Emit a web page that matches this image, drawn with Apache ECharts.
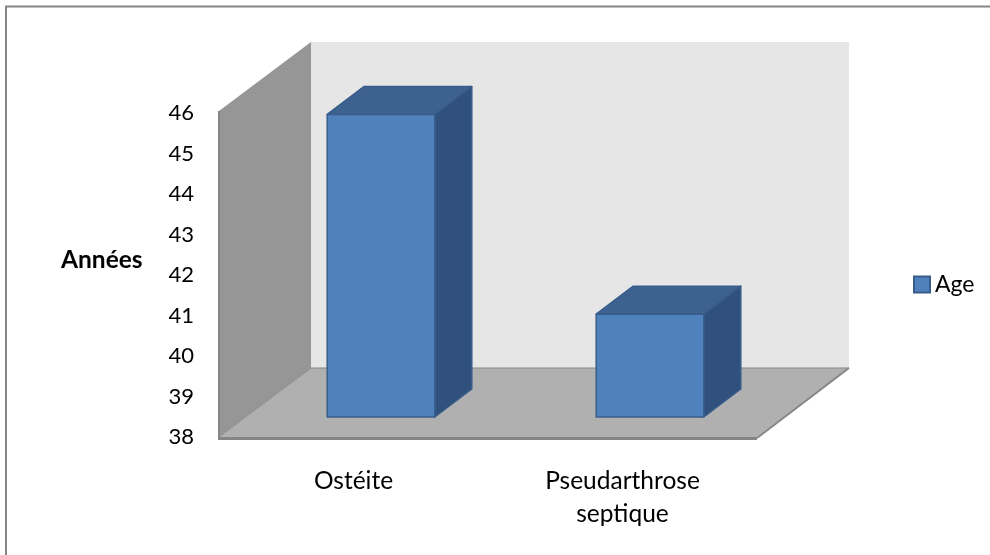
<!DOCTYPE html>
<html>
<head>
<meta charset="utf-8">
<style>html,body{margin:0;padding:0;background:#fff}#chart{width:990px;height:555px}</style>
<script src="https://cdn.jsdelivr.net/npm/echarts@6/dist/echarts.min.js"></script>
</head>
<body>
<div id="chart"></div>
<script>
// Mean age per diagnosis
const categories = ['Ostéite', 'Pseudarthrose\nseptique'];
const ageValues = [45.47, 40.54];
const seriesName = 'Age';
const axisTitle = 'Années';
const axisMin = 38;
const axisMax = 46;

const FONT = 'Lato, "Open Sans", sans-serif';
// Oblique projection of the 3D box: room depth and column depth, in pixels
const ROOM = { dx: 92, dy: -69 };
const COL = { dx: 37, dy: -28 };
// Column front faces sit part way into the room
const COL_SHIFT = { dx: 27.5, dy: -20 };

const chart = echarts.init(document.getElementById('chart'), null, { renderer: 'canvas' });

function poly(points, fill, stroke, lineWidth) {
  return {
    type: 'polygon',
    shape: { points },
    style: { fill, stroke: stroke || fill, lineWidth: lineWidth === undefined ? 1 : lineWidth, lineJoin: 'round' }
  };
}

// Walls and floor of the chart box
function renderRoom(params, api) {
  const c = params.coordSys;
  const l = c.x, r = c.x + c.width, t = c.y - 2, b = c.y + c.height;
  const d = ROOM;
  return {
    type: 'group',
    children: [
      poly([[l + d.dx, t + d.dy], [r + d.dx, t + d.dy], [r + d.dx, b + d.dy], [l + d.dx, b + d.dy]], '#E6E6E6', '#E6E6E6', 0),
      poly([[l, t], [l + d.dx, t + d.dy], [l + d.dx, b + d.dy], [l, b]], '#969696', '#969696', 0),
      poly([[l, b], [r, b], [r + d.dx, b + d.dy], [l + d.dx, b + d.dy]], '#B0B0B0', '#B0B0B0', 0),
      { type: 'line', shape: { x1: l + d.dx, y1: b + d.dy, x2: r + d.dx, y2: b + d.dy }, style: { stroke: '#868686', lineWidth: 1 } },
      { type: 'line', shape: { x1: l, y1: b, x2: l + d.dx, y2: b + d.dy }, style: { stroke: '#8C8C8C', lineWidth: 1 } },
      { type: 'line', shape: { x1: r, y1: b + 1, x2: r + d.dx, y2: b + d.dy }, style: { stroke: '#868686', lineWidth: 2 } },
      { type: 'line', shape: { x1: l, y1: t, x2: l, y2: b + 2 }, style: { stroke: '#868686', lineWidth: 2 } },
      { type: 'line', shape: { x1: l - 1, y1: b + 1.5, x2: r, y2: b + 1.5 }, style: { stroke: '#868686', lineWidth: 3 } }
    ]
  };
}

// One column: front, top and side faces
function renderColumn(params, api) {
  const top = api.coord([api.value(0), api.value(1)]);
  const base = api.coord([api.value(0), axisMin]);
  const w = api.size([1, 0])[0] * 0.4;
  const x0 = top[0] - w / 2 + COL_SHIFT.dx, x1 = x0 + w;
  const yt = top[1] + COL_SHIFT.dy, yb = base[1] + COL_SHIFT.dy;
  const { dx, dy } = COL;
  return {
    type: 'group',
    children: [
      poly([[x0, yt], [x0 + dx, yt + dy], [x1 + dx, yt + dy], [x1, yt]], '#3D6290', '#385D8A', 1.5),
      poly([[x1, yt], [x1 + dx, yt + dy], [x1 + dx, yb + dy], [x1, yb]], '#30517B', '#385D8A', 1.5),
      poly([[x0, yt], [x1, yt], [x1, yb], [x0, yb]], '#4F81BD', '#385D8A', 1.5)
    ]
  };
}

chart.setOption({
  animation: false,
  backgroundColor: '#fff',
  textStyle: { fontFamily: FONT },
  title: {
    text: axisTitle,
    left: 61,
    top: 245,
    padding: 0,
    textStyle: { color: '#000', fontFamily: FONT, fontSize: 24.5, fontWeight: 'bold', lineHeight: 30 }
  },
  grid: { left: 219, right: 233, top: 113, bottom: 118 },
  legend: {
    data: [seriesName],
    left: 913,
    top: 273,
    padding: 0,
    icon: 'rect',
    itemWidth: 16,
    itemHeight: 16,
    itemGap: 0,
    textStyle: { fontFamily: FONT, fontSize: 23, color: '#000' }
  },
  xAxis: {
    type: 'category',
    data: categories,
    axisLine: { show: false },
    axisTick: { show: false },
    axisLabel: { color: '#000', fontFamily: FONT, fontSize: 24.5, lineHeight: 33, margin: 28, interval: 0 }
  },
  yAxis: {
    type: 'value',
    min: axisMin,
    max: axisMax,
    interval: 1,
    axisLine: { show: false },
    axisTick: { show: false },
    splitLine: { show: false },
    axisLabel: { color: '#000', fontFamily: FONT, fontSize: 22, margin: 25 }
  },
  graphic: [{
    type: 'rect',
    silent: true,
    shape: { x: 6, y: 6.5, width: 1200, height: 800 },
    style: { fill: 'none', stroke: '#868686', lineWidth: 2 },
    z: 0
  }],
  series: [
    {
      name: 'room',
      type: 'custom',
      coordinateSystem: 'cartesian2d',
      renderItem: renderRoom,
      data: [[0, axisMin]],
      clip: false,
      silent: true,
      z: 1
    },
    {
      name: seriesName,
      type: 'custom',
      coordinateSystem: 'cartesian2d',
      renderItem: renderColumn,
      encode: { x: 0, y: 1 },
      itemStyle: { color: '#4F81BD', borderColor: '#385D8A', borderWidth: 1.5 },
      data: categories.map((c, i) => [i, ageValues[i]]),
      clip: false,
      z: 2
    }
  ]
});
</script>
</body>
</html>
